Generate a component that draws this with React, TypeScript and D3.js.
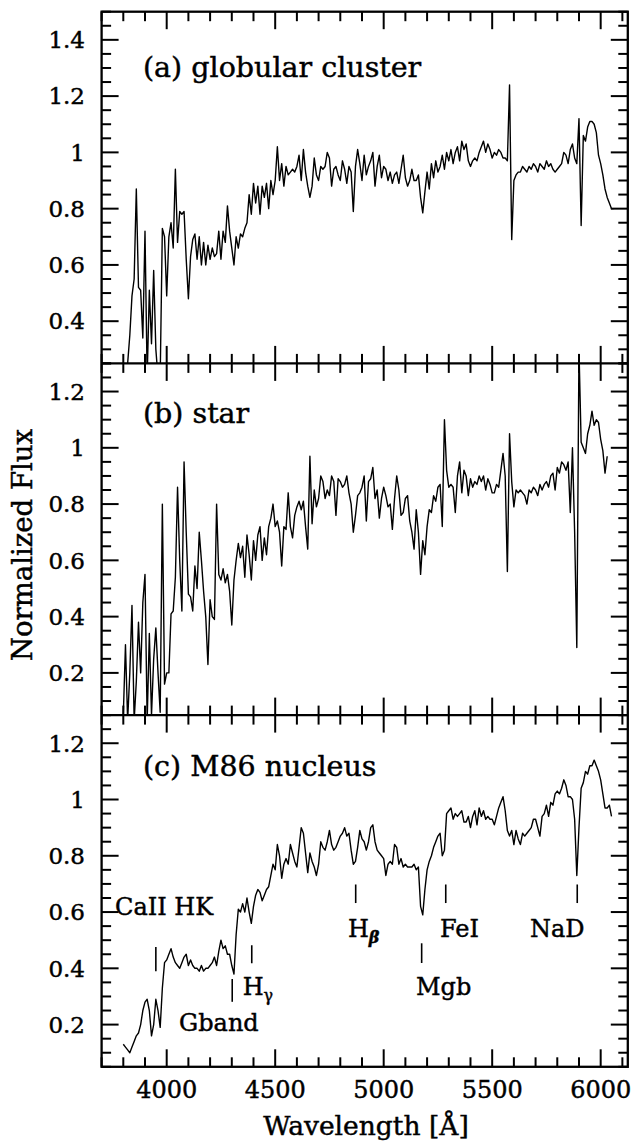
import React from "react";
import * as d3 from "d3";

// wavelength grid: start + step * index (Å)
const WL_START = 3800;
const WL_STEP = 10;

const fluxCluster = [
  0.15, 0.2, 0.25, 0.35, 0.49, 0.55, 0.87, 0.52, 0.51, 0.34,
  0.72, 0.2, 0.51, 0.32, 0.58, 0.3, 0.2, 0.2, 0.73, 0.7,
  0.49, 0.7, 0.75, 0.66, 0.94, 0.68, 0.79, 0.78, 0.79, 0.62,
  0.48, 0.63, 0.69, 0.71, 0.62, 0.7, 0.6, 0.68, 0.6, 0.67,
  0.62, 0.66, 0.63, 0.64, 0.72, 0.62, 0.72, 0.68, 0.81, 0.72,
  0.66, 0.6, 0.7, 0.66, 0.71, 0.7, 0.73, 0.75, 0.85, 0.78,
  0.89, 0.82, 0.88, 0.78, 0.88, 0.84, 0.89, 0.8, 0.9, 0.85,
  0.9, 1.02, 0.9, 0.96, 0.88, 0.95, 0.92, 0.93, 0.94, 0.93,
  0.95, 0.99, 0.9, 1.01, 0.93, 0.88, 0.84, 0.88, 0.98,
  0.92, 0.9, 0.95, 0.94, 0.95, 1.0, 0.98, 0.88, 0.94, 0.95, 0.92,
  0.9, 0.97, 0.94, 0.89, 0.95, 0.93, 0.79, 0.95, 1.01, 0.96,
  0.9, 0.99, 0.92, 0.95, 0.97, 1.0, 0.88, 0.95, 0.99, 0.91,
  0.95, 0.94, 0.9, 0.93, 0.89, 0.92, 0.93, 0.89, 0.94, 0.99,
  0.91, 0.88, 0.9, 0.94, 0.9, 0.9, 0.92, 0.84, 0.785, 0.86,
  0.93, 0.87, 0.96, 0.91, 0.97, 0.93, 0.95, 0.99, 0.94, 1.0,
  0.97, 1.01, 0.96, 1.0, 1.02, 0.97, 1.04, 1.01, 1.03, 0.97,
  0.95, 0.97, 0.98, 0.97, 1.0, 1.02, 1.04, 1.0, 1.03, 1.01,
  0.98, 1.0, 0.99, 1.01, 1.0, 0.98, 0.98, 0.97, 1.24, 0.69,
  0.9, 0.92, 0.93, 0.93, 0.95, 0.94, 0.93, 0.95, 0.94, 0.96,
  0.95, 0.93, 0.96, 0.95, 0.94, 0.97, 0.95, 0.96, 0.94, 0.93,
  0.94, 0.95, 0.96, 1.0, 0.99, 0.96, 1.01, 1.03, 0.98, 0.96,
  1.12, 0.74, 1.06, 1.04, 1.09, 1.11, 1.11, 1.1, 1.07, 0.99,
  0.96, 0.92, 0.87, 0.84, 0.82, 0.8, 0.8,
];

const fluxStar = [
  0.05, 0.3, 0.03, 0.2, 0.44, 0.03, 0.17, 0.38, 0.2, 0.45,
  0.55, 0.03, 0.34, 0.05, 0.25, 0.36, 0.2, 0.06, 0.8, 0.16,
  0.2, 0.2, 0.41, 0.42, 0.54, 0.86, 0.6, 0.42, 0.95, 0.7,
  0.48, 0.47, 0.42, 0.58, 0.5, 0.7, 0.6, 0.49, 0.4, 0.23,
  0.46, 0.4, 0.39, 0.8, 0.55, 0.53, 0.57, 0.52, 0.55, 0.49,
  0.37, 0.53, 0.6, 0.66, 0.61, 0.65, 0.54, 0.69, 0.62, 0.53,
  0.67, 0.6, 0.69, 0.72, 0.6, 0.68, 0.62, 0.72, 0.75, 0.8,
  0.72, 0.74, 0.7, 0.58, 0.72, 0.71, 0.84, 0.72, 0.68, 0.76,
  0.79, 0.81, 0.78, 0.81, 0.72, 0.64, 0.97, 0.73, 0.85, 0.79,
  0.82, 0.9, 0.88, 0.82, 0.85, 0.83, 0.9, 0.88, 0.76, 0.89,
  0.88, 0.86, 0.87, 0.9, 0.84, 0.8, 0.7, 0.76, 0.83, 0.84,
  0.86, 0.9, 0.74, 0.88, 0.89, 0.93, 0.82, 0.85, 0.75, 0.82,
  0.86, 0.83, 0.79, 0.8, 0.71, 0.82, 0.9, 0.85, 0.76, 0.77,
  0.82, 0.83, 0.74, 0.7, 0.64, 0.78, 0.7, 0.55, 0.67, 0.62,
  0.72, 0.78, 0.77, 0.83, 0.81, 0.86, 0.87, 0.72, 1.1, 0.92,
  0.86, 0.87, 0.86, 0.77, 0.9, 0.95, 0.84, 0.92, 0.9, 0.83,
  0.89, 0.86, 0.88, 0.87, 0.9, 0.88, 0.9, 0.85, 0.89, 0.87,
  0.84, 0.84, 0.87, 0.86, 0.92, 0.98, 0.9, 0.56, 1.05, 0.88,
  0.79, 0.85, 0.84, 0.85, 0.84, 0.83, 0.8, 0.85, 0.84, 0.86,
  0.85, 0.83, 0.87, 0.85, 0.87, 0.88, 0.86, 0.9, 0.91, 0.85,
  0.93, 0.91, 0.95, 0.94, 0.92, 0.95, 0.77, 1.0, 0.7, 0.29,
  1.35, 1.02, 1.0, 0.98, 1.05, 1.08, 1.13, 1.08, 1.1, 1.09,
  1.03, 0.99, 0.91, 0.97,
];

const fluxM86 = [
  0.13, 0.12, 0.11, 0.1, 0.12, 0.14, 0.16, 0.17, 0.2, 0.25,
  0.28, 0.29, 0.25, 0.16, 0.2, 0.29, 0.25, 0.19, 0.33, 0.42,
  0.43, 0.45, 0.47, 0.44, 0.42, 0.41, 0.4, 0.42, 0.44, 0.45,
  0.41, 0.43, 0.41, 0.4, 0.4, 0.39, 0.41, 0.39, 0.4, 0.4,
  0.41, 0.42, 0.44, 0.41, 0.46, 0.5, 0.47, 0.48, 0.45, 0.45,
  0.41, 0.38, 0.52, 0.61, 0.6, 0.63, 0.6, 0.65, 0.6, 0.56,
  0.62, 0.66, 0.68, 0.67, 0.64, 0.66, 0.68, 0.69, 0.73, 0.77,
  0.75, 0.84, 0.8, 0.72, 0.77, 0.79, 0.77, 0.84, 0.81, 0.78,
  0.76, 0.83, 0.9, 0.88, 0.81, 0.74, 0.81, 0.78, 0.76,
  0.73, 0.77, 0.85, 0.83, 0.82, 0.85, 0.89, 0.84, 0.82, 0.83, 0.85,
  0.87, 0.88, 0.9, 0.87, 0.88, 0.82, 0.77, 0.78, 0.83, 0.89,
  0.86, 0.85, 0.82, 0.85, 0.9, 0.91, 0.85, 0.82, 0.81, 0.8,
  0.79, 0.73, 0.77, 0.78, 0.77, 0.84, 0.83, 0.77, 0.79, 0.76,
  0.77, 0.76, 0.76, 0.76, 0.77, 0.75, 0.76, 0.62, 0.59, 0.68,
  0.75, 0.78, 0.8, 0.83, 0.85, 0.87, 0.88, 0.8, 0.82, 0.95,
  0.96, 0.97, 0.93, 0.95, 0.94, 0.95, 0.96, 0.92, 0.92, 0.94,
  0.9, 0.94, 0.96, 0.91, 0.97, 0.94, 0.96, 0.93, 0.94, 0.93,
  0.93, 0.91, 0.94, 0.97, 0.99, 1.01, 0.96, 0.89, 0.87, 0.89,
  0.84, 0.89, 0.86, 0.84, 0.88, 0.87, 0.88, 0.89, 0.9, 0.93,
  0.93, 0.9, 0.87, 0.94, 0.95, 0.98, 0.94, 0.99, 0.98, 1.02,
  1.03, 1.02, 1.04, 1.07, 1.05, 1.01, 1.01, 1.0, 0.93, 0.73,
  0.9, 1.04, 1.06, 1.1, 1.09, 1.12, 1.12, 1.14, 1.12, 1.1,
  1.07, 1.02, 0.97, 0.97, 0.98, 0.94,
];

const panelSeries = [fluxCluster, fluxStar, fluxM86];
const panelLabels = ["(a) globular cluster", "(b) star", "(c) M86 nucleus"];
const panelLabelFlux = [1.267, 1.087, 1.085];
const panelYDomains: [number, number][] = [[0.25, 1.5], [0.05, 1.3], [0.05, 1.3]];
const panelYTicks = [
  [0.4, 0.6, 0.8, 1, 1.2, 1.4],
  [0.2, 0.4, 0.6, 0.8, 1, 1.2],
  [0.2, 0.4, 0.6, 0.8, 1, 1.2],
];
const xDomain: [number, number] = [3700, 6125];
const xMajorTicks = [4000, 4500, 5000, 5500, 6000];

// spectral features in panel (c): marker wavelength, marker flux range, label
const featureNames = ["CaII HK", "Gband", "H", "H", "Mgb", "FeI", "NaD"];
const featureSubs = ["", "", "γ", "β", "", "", ""];
const featureMarkWl = [3950, 4302, 4392, 4871, 5175, 5286, 5892];
const featureMarkLo = [0.39, 0.281, 0.418, 0.632, 0.419, 0.632, 0.632];
const featureMarkHi = [0.476, 0.362, 0.482, 0.698, 0.489, 0.698, 0.698];
const featureTextWl = [3762, 4057, 4350, 4835, 5149, 5259, 5674];
const featureTextFlux = [0.588, 0.178, 0.305, 0.511, 0.305, 0.511, 0.511];

const W = 635;
const H = 1143;
const LEFT = 101.6;
const RIGHT = 627.8;
const TOP = 11.7;
const PH = 351.7;
const FONT = "'DejaVu Serif', serif";
const TXT = { stroke: "#000", strokeWidth: 0.45, fill: "#000" };

function fmt(v: number) {
  return v === 1 ? "1" : v.toFixed(1);
}

export default function App() {
  const x = d3.scaleLinear().domain(xDomain).range([LEFT, RIGHT]);
  const xMinor = d3.range(3700, 6126, 100).filter((v) => v % 500 !== 0);

  return (
    <svg
      width={W}
      height={H}
      style={{ position: "absolute", left: 0, top: 0, background: "#fff" }}
      fontFamily={FONT}
    >
      <rect width={W} height={H} fill="#fff" />
      {panelSeries.map((series, p) => {
        const top = TOP + p * PH;
        const bottom = top + PH;
        const y = d3.scaleLinear().domain(panelYDomains[p]).range([bottom, top]);
        const line = d3
          .line<number>()
          .x((_, i) => x(WL_START + i * WL_STEP))
          .y((d) => y(d));
        const [lo, hi] = panelYDomains[p];
        const yMinor = d3
          .range(Math.round(lo / 0.05), Math.round(hi / 0.05) + 1)
          .map((k) => +(k * 0.05).toFixed(2))
          .filter((v) => !panelYTicks[p].some((t) => Math.abs(t - v) < 1e-6));
        const clipId = `clip${p}`;
        return (
          <g key={p}>
            <defs>
              <clipPath id={clipId}>
                <rect x={LEFT} y={top} width={RIGHT - LEFT} height={PH} />
              </clipPath>
            </defs>
            <path
              d={line(series) || ""}
              fill="none"
              stroke="#000"
              strokeWidth={1.4}
              strokeLinejoin="round"
              clipPath={`url(#${clipId})`}
            />
            {panelYTicks[p].map((t) => (
              <g key={"ym" + t}>
                <line x1={LEFT} x2={LEFT + 17} y1={y(t)} y2={y(t)} stroke="#000" strokeWidth={2} />
                <line x1={RIGHT} x2={RIGHT - 17} y1={y(t)} y2={y(t)} stroke="#000" strokeWidth={2} />
                <text x={85} y={y(t)} dy="0.36em" textAnchor="end" fontSize={23} {...TXT}>
                  {fmt(t)}
                </text>
              </g>
            ))}
            {yMinor.map((t) => (
              <g key={"yn" + t}>
                <line x1={LEFT} x2={LEFT + 9.5} y1={y(t)} y2={y(t)} stroke="#000" strokeWidth={2} />
                <line x1={RIGHT} x2={RIGHT - 9.5} y1={y(t)} y2={y(t)} stroke="#000" strokeWidth={2} />
              </g>
            ))}
            {xMajorTicks.map((t) => (
              <g key={"xm" + t}>
                <line x1={x(t)} x2={x(t)} y1={top} y2={top + 17.5} stroke="#000" strokeWidth={2} />
                <line x1={x(t)} x2={x(t)} y1={bottom} y2={bottom - 17.5} stroke="#000" strokeWidth={2} />
              </g>
            ))}
            {xMinor.map((t) => (
              <g key={"xn" + t}>
                <line x1={x(t)} x2={x(t)} y1={top} y2={top + 9.5} stroke="#000" strokeWidth={2} />
                <line x1={x(t)} x2={x(t)} y1={bottom} y2={bottom - 9.5} stroke="#000" strokeWidth={2} />
              </g>
            ))}
            <text x={143} y={y(panelLabelFlux[p])} fontSize={28.5} {...TXT}>
              {panelLabels[p]}
            </text>
            {p === 2 &&
              featureNames.map((name, k) => (
                <g key={"f" + k}>
                  <line
                    x1={x(featureMarkWl[k])}
                    x2={x(featureMarkWl[k])}
                    y1={y(featureMarkLo[k])}
                    y2={y(featureMarkHi[k])}
                    stroke="#000"
                    strokeWidth={1.6}
                  />
                  <text x={x(featureTextWl[k])} y={y(featureTextFlux[k])} fontSize={24} {...TXT}>
                    {name}
                    {featureSubs[k] && (
                      <tspan
                        dy={6}
                        fontSize={16}
                        fontWeight={featureSubs[k] === "β" ? "bold" : "normal"}
                        fontStyle={featureSubs[k] === "β" ? "italic" : "normal"}
                      >
                        {featureSubs[k]}
                      </tspan>
                    )}
                  </text>
                </g>
              ))}
            {p === 2 &&
              xMajorTicks.map((t) => (
                <text key={"xl" + t} x={x(t)} y={1098} textAnchor="middle" fontSize={24} {...TXT}>
                  {t}
                </text>
              ))}
          </g>
        );
      })}
      <rect
        x={LEFT}
        y={TOP}
        width={RIGHT - LEFT}
        height={PH * 3}
        fill="none"
        stroke="#000"
        strokeWidth={2.3}
      />
      <line x1={LEFT} x2={RIGHT} y1={TOP + PH} y2={TOP + PH} stroke="#000" strokeWidth={2.3} />
      <line x1={LEFT} x2={RIGHT} y1={TOP + 2 * PH} y2={TOP + 2 * PH} stroke="#000" strokeWidth={2.3} />
      <text x={366} y={1135} textAnchor="middle" fontSize={26.5} {...TXT}>
        Wavelength [Å]
      </text>
      <text transform="translate(32,545) rotate(-90)" textAnchor="middle" fontSize={27.5} {...TXT}>
        Normalized Flux
      </text>
    </svg>
  );
}
